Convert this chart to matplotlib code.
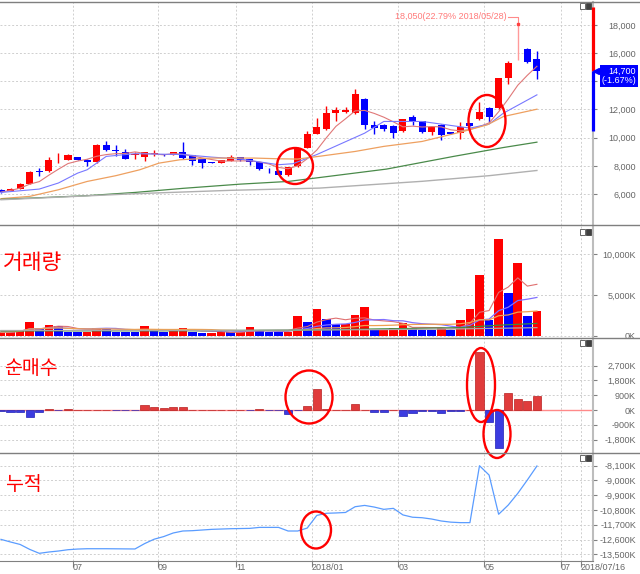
import numpy as np
import pandas as pd
import matplotlib
matplotlib.use('Agg')
import matplotlib.pyplot as plt
import matplotlib.transforms as mtransforms
from matplotlib.patches import Ellipse, Rectangle
from matplotlib.lines import Line2D

plt.rcParams['font.family'] = ['Liberation Sans', 'DejaVu Sans']

# weekly candles (won)
opens = [6300, 6230, 6350, 6710, 7620, 7600, 8460, 8430, 8620, 8430,
         8240, 9490, 9100, 8970, 8760, 8620, 8850, 8800, 8780, 8950,
         8780, 8480, 8240, 8190, 8360, 8600, 8480, 8240, 7700, 7650,
         7320, 7960, 9300, 10270, 10600, 11740, 11790, 11740, 12750, 10910,
         10910, 10840, 10490, 11450, 11170, 10370, 10910, 10370, 10320, 11030,
         11310, 12090, 12090, 14220, 15700, 16270, 15590]
highs = [6350, 6420, 6780, 7600, 7840, 8620, 8900, 8850, 8660, 8450,
         9560, 9730, 9450, 9210, 9000, 9000, 9140, 8850, 9000, 9660,
         8800, 8500, 8260, 8400, 8760, 8650, 8500, 8260, 7840, 7700,
         7950, 9350, 10490, 11380, 12260, 12160, 12210, 13440, 12800, 11150,
         11000, 10900, 11350, 11620, 11200, 10850, 10950, 10400, 11100, 11050,
         12560, 12150, 14250, 15450, 18050, 16350, 16180]
lows = [6100, 6200, 6330, 6700, 7300, 7580, 8190, 8380, 8400, 8000,
        8220, 9050, 8670, 8450, 8480, 8310, 8670, 8700, 8760, 8500,
        8080, 7840, 8170, 8170, 8330, 8330, 8030, 7720, 7490, 7330,
        7290, 7910, 9250, 10250, 10550, 11150, 11750, 11700, 10600, 10250,
        10500, 9970, 10400, 10910, 10300, 10200, 9850, 10250, 9900, 10840,
        11280, 11080, 12050, 13790, 15500, 15280, 14150]
closes = [6140, 6370, 6730, 7560, 7590, 8430, 8490, 8740, 8430, 8240,
          9490, 9090, 9070, 8500, 8800, 8950, 8880, 8770, 8950, 8550,
          8360, 8190, 8190, 8380, 8600, 8380, 8240, 7770, 7670, 7370,
          7910, 9300, 10270, 10750, 11740, 11970, 11970, 13080, 10910, 10680,
          10630, 10320, 11310, 11150, 10370, 10790, 10200, 10280, 10790, 10860,
          11810, 11500, 14220, 15330, 15750, 15350, 14700]

# moving average lines (week index, won)
ma10_x = [0, 4, 6, 8, 9, 11, 14, 19, 22, 25, 29, 30.5, 33, 38, 40, 44, 49, 51, 52.5, 56]
ma10_y = [6110, 6350, 6780, 7480, 7720, 8670, 8860, 8800, 8620, 8480, 8080, 8150, 8800,
          10320, 11150, 11150, 10680, 10960, 11740, 13040]
ma20_x = [0, 3, 6, 9, 12, 14.5, 16.5, 18.7, 22, 26.5, 29, 31, 33.3, 37, 40, 44, 48.3, 50.8, 52.5, 56]
ma20_y = [5670, 5830, 6300, 6890, 7300, 7720, 8190, 8430, 8550, 8550, 8500, 8480, 8680,
          9020, 9380, 9730, 10440, 10910, 11500, 12020]
ma60_x = [0, 9, 14, 19, 25, 30, 33.3, 40.3, 47.3, 52.5, 56]
ma60_y = [5620, 5880, 6110, 6400, 6700, 6890, 7170, 7770, 8670, 9300, 9680]
ma120_x = [0, 14, 24, 33.3, 44, 51, 56]
ma120_y = [5590, 6020, 6260, 6420, 6900, 7300, 7670]

# volume (thousand shares) and bar colour
volume = [450, 500, 700, 1700, 900, 1350, 1250, 500, 500, 500,
          1000, 850, 500, 500, 500, 1150, 600, 500, 750, 950,
          500, 300, 350, 500, 450, 500, 1050, 750, 500, 500,
          500, 2450, 1700, 3250, 2050, 1400, 1450, 2600, 3500, 750,
          850, 1000, 1550, 1000, 750, 750, 950, 700, 2000, 3300,
          7500, 2000, 11900, 5250, 8950, 2450, 3100]
vol_up = list("rrrrbrbbbrrbbbbrbbrrbbrrbrrbbbrrbrbbrrrbrrrbbbrbrrrbrbrbr")
vol60_x = [0, 20, 31, 40, 48, 52, 56]
vol60_y = [600, 620, 700, 850, 1000, 1300, 1520]
vol120_x = [0, 20, 31, 40, 48, 56]
vol120_y = [650, 650, 700, 760, 850, 1000]

# net buying (thousand shares)
net_buy = [-80, -100, -150, -400, -150, 50, -20, 50, 0, 20,
           0, 0, -20, -20, -20, 330, 200, 150, 200, 200,
           20, 0, 20, 20, 0, 20, -30, 80, -30, -30,
           -250, -30, 220, 1250, 50, 0, 30, 380, 0, -100,
           -150, 30, -380, -200, -50, -60, -180, -80, -80, 20,
           3500, -700, -2300, 1050, 650, 550, 850]

# cumulative net buying (thousand shares)
cumulative = [-12590, -12750, -12900, -13200, -13440, -13360, -13300, -13220, -13180, -13160,
              -13160, -13160, -13165, -13170, -13175, -12850, -12580, -12420, -12200, -12080,
              -12060, -12020, -11980, -11960, -11940, -11930, -11920, -11860, -11860, -11860,
              -12080, -12080, -11900, -11130, -11000, -10980, -10950, -10600, -10520, -10620,
              -10760, -10700, -11100, -11240, -11270, -11350, -11470, -11540, -11570, -11570,
              -8100, -8670, -11060, -10500, -9785, -8970, -8120]

tick_labels = ['07', '09', '11', '2018/01', '03', '05', '07', '2018/07/16']
tick_pos = [7.52, 16.4, 24.56, 32.5, 41.5, 50.5, 58.5, 60.6]

last_price = 14700
last_change = '(-1.67%)'
range_high = 19280
range_low = 10480
peak_text = '18,050(22.79% 2018/05/28)'

W, H = 640, 574
fig = plt.figure(figsize=(6.4, 5.74), dpi=100)


def box(top, bottom):
    return [0, 1 - bottom / H, 593 / W, (bottom - top) / H]


ax1 = fig.add_axes(box(2, 225))
ax2 = fig.add_axes(box(226, 337), sharex=ax1)
ax3 = fig.add_axes(box(338, 452), sharex=ax1)
ax4 = fig.add_axes(box(453, 561), sharex=ax1)
axes = [ax1, ax2, ax3, ax4]

x = np.arange(len(closes))
o = np.array(opens); c = np.array(closes)
hi = np.array(highs); lo = np.array(lows)
hi_idx = int(np.argmax(hi))

# candles
cols = np.where(c >= o, '#ff0000', '#0000ff').astype(object)
cols[hi_idx] = '#ff9a9a'
ax1.vlines(x, lo, hi, colors=list(cols), lw=1, zorder=2)
body = np.maximum(np.abs(c - o), 45)
ax1.bar(x, body, bottom=np.minimum(o, c), width=0.74, color=list(cols), lw=0, zorder=2)

ma5 = pd.Series(closes).rolling(5, min_periods=1).mean()
ax1.plot(x, ma5, color='#e07878', lw=0.8, zorder=3)
ax1.plot(ma10_x, ma10_y, color='#7878ff', lw=0.8, zorder=3)
ax1.plot(ma20_x, ma20_y, color='#eea060', lw=0.9, zorder=3)
ax1.plot(ma60_x, ma60_y, color='#4a8a4a', lw=0.9, zorder=3)
ax1.plot(ma120_x, ma120_y, color='#b0b0b0', lw=1, zorder=3)

# peak annotation
ty = highs[hi_idx] + 520
ax1.text(hi_idx - 1.15, ty, peak_text, color='#ff7a7a', fontsize=6.5, ha='right', va='center')
ax1.plot([hi_idx - 1.0, hi_idx, hi_idx], [ty, ty, highs[hi_idx]], color='#ff8a8a', lw=0.8)
ax1.plot([hi_idx], [highs[hi_idx]], marker='s', ms=1.5, color='#ff4040')

blend = mtransforms.blended_transform_factory(ax1.transAxes, ax1.transData)
ax1.plot([1, 1], [last_price, range_high], transform=blend, color='#ff0000', lw=2.3,
         clip_on=False, solid_capstyle='butt', zorder=5)
ax1.plot([1, 1], [range_low, last_price], transform=blend, color='#0000ff', lw=2.3,
         clip_on=False, solid_capstyle='butt', zorder=5)
ax1.plot([1], [last_price], marker='<', ms=4, color='#0000ff', clip_on=False, zorder=6,
         transform=blend + mtransforms.ScaledTranslation(0.03, 0, fig.dpi_scale_trans))
ax1.annotate(f'{last_price:,}\n{last_change}', xy=(1, last_price), xycoords=blend,
             xytext=(31, 3.5), textcoords='offset points', ha='right', va='top',
             fontsize=6.5, color='white', linespacing=1.05, zorder=10,
             bbox=dict(boxstyle='square,pad=0.2', fc='#0000ff', ec='none'),
             annotation_clip=False)

# volume
vcol = ['#ff0000' if k == 'r' else '#0000ff' for k in vol_up]
ax2.bar(x, volume, width=0.9, color=vcol, lw=0, zorder=2)
vs = pd.Series(volume)
ax2.plot(x, vs.rolling(5, min_periods=1).mean(), color='#e07070', lw=0.8, zorder=3)
ax2.plot(x, vs.rolling(10, min_periods=1).mean(), color='#8070ff', lw=0.9, zorder=3)
ax2.plot(x, vs.rolling(20, min_periods=1).mean(), color='#f0a050', lw=0.9, zorder=3)
ax2.plot(vol60_x, vol60_y, color='#3c8c3c', lw=0.9, zorder=3)
ax2.plot(vol120_x, vol120_y, color='#a8a8a8', lw=0.9, zorder=3)

# net buying
nb = np.array(net_buy)
ax3.axhline(0, color='#ff8a8a', lw=1, zorder=1)
ax3.bar(x, nb, width=0.85, color=np.where(nb >= 0, '#e03c3c', '#3c3ce0'),
        edgecolor=np.where(nb >= 0, '#b82020', '#2020b8'), lw=0.5, zorder=2)

# cumulative
ax4.plot(x, cumulative, color='#5a9cff', lw=0.9, zorder=2)

ax1.set_ylim(3798, 19633)
ax2.set_ylim(-150, 13500)
ax3.set_ylim(-2555, 4380)
ax4.set_ylim(-13908, -7326)
ax1.set_xlim(-0.104, 61.86)

yt = {
    ax1: list(range(6000, 18001, 2000)),
    ax2: [0, 5000, 10000],
    ax3: [-1800, -900, 0, 900, 1800, 2700],
    ax4: list(range(-13500, -8099, 900)),
}
for ax in axes:
    ax.set_facecolor('white')
    ax.set_axisbelow(True)
    ax.yaxis.tick_right()
    ticks = yt[ax]
    if ax is ax1:
        # the 14,000 label sits under the current-price box
        labels = ['' if v == 14000 else f'{v:,}' for v in ticks]
    else:
        labels = [f'{v:,}K' for v in ticks]
    ax.set_yticks(ticks, labels, ha='right')
    ax.tick_params(axis='y', direction='out', length=3, width=0.8, color='#808080',
                   labelcolor='#666666', labelsize=6.5, pad=28)
    ax.grid(True, color='#cfcfcf', ls=(0, (2, 2)), lw=0.7)
    for s in ['left', 'top', 'bottom']:
        ax.spines[s].set_visible(False)
    ax.spines['right'].set_color('#bdbdbd')
    ax.spines['right'].set_linewidth(1.5)

ax4.set_xticks(tick_pos, tick_labels, ha='left')
for ax in [ax1, ax2, ax3]:
    ax.tick_params(axis='x', length=0, labelbottom=False)
ax4.tick_params(axis='x', direction='out', length=4, width=0.8, color='#808080',
                labelcolor='#666666', labelsize=6.5, pad=-2.5)
ax4.spines['bottom'].set_visible(True)
ax4.spines['bottom'].set_color('#808080')

# panel separators
for yy in [1.5, 225.5, 337.5, 452.5]:
    fig.add_artist(Line2D([0, 1], [1 - yy / H] * 2, transform=fig.transFigure,
                          color='#7f7f7f', lw=1))

# small panel buttons
for yy in [3, 229, 340, 455]:
    fig.add_artist(Rectangle((580 / W, 1 - (yy + 6) / H), 5 / W, 6 / H, transform=fig.transFigure,
                             fc='white', ec='#505050', lw=0.6))
    fig.add_artist(Rectangle((586 / W, 1 - (yy + 6) / H), 5 / W, 6 / H, transform=fig.transFigure,
                             fc='#404040', ec='#404040', lw=0.6))

# hand drawn marks
circles = [(295, 166, 36, 36), (487, 121, 37, 52), (309, 397, 47, 53),
           (481, 385, 28, 74), (497, 434, 27, 48), (316, 530, 30, 37)]
for cx, cy, w, h in circles:
    fig.add_artist(Ellipse((cx / W, 1 - cy / H), w / W, h / H, transform=fig.transFigure,
                           fill=False, ec='#ff0000', lw=1.7))

kfont = ['Noto Sans CJK KR', 'DejaVu Sans']
fig.text(33 / W, 1 - 263 / H, '거래량', color='#ff0000', fontsize=15.5, family=kfont,
         ha='center', va='center')
fig.text(31 / W, 1 - 369 / H, '순매수', color='#ff0000', fontsize=14, family=kfont,
         ha='center', va='center')
fig.text(24 / W, 1 - 485 / H, '누적', color='#ff0000', fontsize=14, family=kfont,
         ha='center', va='center')

fig.savefig('out.png', dpi=100)
